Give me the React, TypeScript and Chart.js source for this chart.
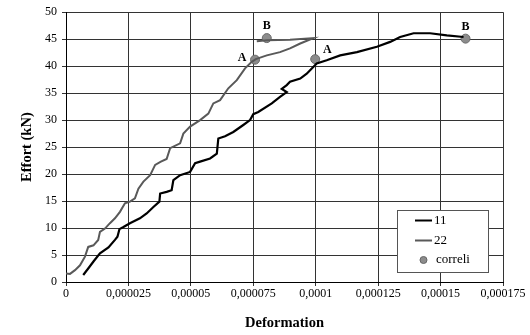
import React, { useEffect, useRef } from "react";
import { Chart, registerables } from "chart.js";

Chart.register(...registerables);

// Deformation values in units of 1e-6 (axis labels give the real values)
const def11 = [6.9, 8.9, 11, 13.6, 17, 19.6, 20.6, 21.4, 23, 25.6, 29.6, 32.3, 35, 37.4, 37.7, 40.3, 42.3, 43, 45.7, 49.7, 51.7, 53.7, 57.7, 60.4, 61, 63.7, 67, 71, 73.7, 75, 77, 82.4, 85.7, 88.4, 86.4, 88.4, 89.7, 93.8, 96.4, 100.4, 104.4, 109.8, 116.5, 124.5, 129.8, 133.8, 139.2, 145.8, 152.5, 159.2];
const effort11 = [1.3, 2.5, 3.8, 5.3, 6.4, 7.8, 8.4, 9.8, 10.2, 10.9, 11.8, 12.7, 13.9, 14.9, 16.4, 16.7, 17, 18.9, 19.8, 20.4, 22, 22.3, 22.9, 23.8, 26.6, 27.0, 27.8, 29.1, 30, 31.1, 31.5, 33.1, 34.3, 35.2, 35.8, 36.5, 37.1, 37.7, 38.6, 40.5, 41.1, 42, 42.6, 43.6, 44.5, 45.4, 46.1, 46.1, 45.7, 45.4];

const def22 = [0, 1.6, 3.6, 5.6, 7.6, 8.9, 11, 12.9, 13.6, 15.6, 17.6, 19.6, 21.6, 23.6, 25.6, 27.6, 29, 31, 33.7, 35.7, 38, 40.3, 41.7, 45.7, 47, 49.7, 53.7, 57, 59, 61.7, 65, 68.4, 71.7, 74.4, 76, 80.4, 85.7, 89.7, 93.8, 99, 89.7, 80.4, 76.4];
const effort22 = [1.6, 1.5, 2.2, 3.1, 4.7, 6.5, 6.8, 7.8, 9.3, 9.9, 10.9, 11.8, 13.0, 14.6, 14.9, 15.5, 17.3, 18.6, 19.8, 21.7, 22.3, 22.8, 24.8, 25.7, 27.5, 28.8, 30.0, 31.2, 33.1, 33.7, 35.9, 37.4, 39.6, 40.8, 41.3, 42.0, 42.6, 43.3, 44.2, 45.2, 44.9, 44.8, 44.6];

const defCorreli = [75.7, 80.4, 99.8, 160];
const effortCorreli = [41.2, 45.2, 41.3, 45.1];
const correliLabels = ["A", "B", "A", "B"];

const xTickLabels = ["0", "0,000025", "0,00005", "0,000075", "0,0001", "0,000125", "0,00015", "0,000175"];
const yTickLabels = ["0", "5", "10", "15", "20", "25", "30", "35", "40", "45", "50"];
const seriesNames = ["11", "22", "correli"];

// style: label placement relative to each point (pixels)
const labelOffsets = [[-13, -2], [0, -12], [12, -9], [0, -12]];

const SERIF = "'Liberation Serif', 'Times New Roman', serif";
const GRID = "#333333";
const C11 = "#000000";
const C22 = "#595959";
const CPT = "#8c8c8c";

const toXY = (xs: number[], ys: number[]) => xs.map((x, i) => ({ x, y: ys[i] }));

const pointLabels = {
  id: "pointLabels",
  afterDatasetsDraw(chart: any) {
    const meta = chart.getDatasetMeta(2);
    const ctx = chart.ctx;
    ctx.save();
    ctx.font = `bold 12px ${SERIF}`;
    ctx.fillStyle = "#000";
    ctx.textAlign = "center";
    ctx.textBaseline = "middle";
    meta.data.forEach((el: any, i: number) => {
      const o = labelOffsets[i];
      ctx.fillText(correliLabels[i], el.x + o[0], el.y + o[1]);
    });
    ctx.restore();
  },
};

const boxLegend = {
  id: "boxLegend",
  afterDraw(chart: any) {
    const ctx = chart.ctx;
    const a = chart.chartArea;
    const w = 91, h = 62;
    const x0 = a.right - 106, y0 = a.bottom - 72;
    ctx.save();
    ctx.fillStyle = "#fff";
    ctx.fillRect(x0, y0, w, h);
    ctx.strokeStyle = "#555";
    ctx.lineWidth = 1;
    ctx.strokeRect(x0 + 0.5, y0 + 0.5, w, h);
    ctx.font = `13px ${SERIF}`;
    ctx.textBaseline = "middle";
    ctx.textAlign = "left";
    const rows = [y0 + 10.5, y0 + 30.5, y0 + 50];
    ctx.lineWidth = 2;
    ctx.strokeStyle = C11;
    ctx.beginPath(); ctx.moveTo(x0 + 18, rows[0]); ctx.lineTo(x0 + 35, rows[0]); ctx.stroke();
    ctx.strokeStyle = C22;
    ctx.beginPath(); ctx.moveTo(x0 + 18, rows[1]); ctx.lineTo(x0 + 35, rows[1]); ctx.stroke();
    ctx.fillStyle = CPT;
    ctx.strokeStyle = "#666";
    ctx.lineWidth = 1;
    ctx.beginPath(); ctx.arc(x0 + 26.5, rows[2], 3.5, 0, Math.PI * 2); ctx.fill(); ctx.stroke();
    ctx.fillStyle = "#000";
    ctx.fillText(seriesNames[0], x0 + 37, rows[0]);
    ctx.fillText(seriesNames[1], x0 + 37, rows[1]);
    ctx.fillText(seriesNames[2], x0 + 39, rows[2]);
    ctx.restore();
  },
};

export default function App() {
  const ref = useRef<HTMLCanvasElement | null>(null);
  useEffect(() => {
    if (!ref.current) return;
    const chart = new Chart(ref.current, {
      type: "line",
      data: {
        datasets: [
          {
            label: seriesNames[0],
            data: toXY(def11, effort11),
            borderColor: C11,
            borderWidth: 2.2,
            pointRadius: 0,
            tension: 0,
            fill: false,
          },
          {
            label: seriesNames[1],
            data: toXY(def22, effort22),
            borderColor: C22,
            borderWidth: 2,
            pointRadius: 0,
            tension: 0,
            fill: false,
          },
          {
            label: seriesNames[2],
            data: toXY(defCorreli, effortCorreli),
            showLine: false,
            pointRadius: 4.5,
            pointBackgroundColor: CPT,
            pointBorderColor: "#6a6a6a",
            pointBorderWidth: 1,
            borderColor: CPT,
          },
        ],
      },
      options: {
        animation: false,
        responsive: false,
        parsing: true,
        layout: { padding: { top: 12, right: 27, left: 0, bottom: 0 } },
        plugins: {
          legend: { display: false },
          tooltip: { enabled: false },
        },
        scales: {
          x: {
            type: "linear",
            min: 0,
            max: 175,
            ticks: {
              stepSize: 25,
              color: "#000",
              font: { family: SERIF, size: 12 },
              padding: 1,
              maxRotation: 0,
              callback: (_v: any, i: number) => xTickLabels[i],
            },
            grid: { color: GRID, lineWidth: 1, tickLength: 4, drawTicks: true },
            border: { color: "#000", width: 1 },
            title: {
              display: true,
              text: "Deformation",
              color: "#000",
              font: { family: SERIF, size: 14.5, weight: "bold" },
              padding: { top: 0, bottom: 3 },
            },
            afterFit: (s: any) => { s.height = 53; },
          },
          y: {
            type: "linear",
            min: 0,
            max: 50,
            ticks: {
              stepSize: 5,
              color: "#000",
              font: { family: SERIF, size: 12 },
              padding: 5,
              callback: (_v: any, i: number) => yTickLabels[i],
            },
            grid: { color: GRID, lineWidth: 1, tickLength: 4, drawTicks: true },
            border: { color: "#000", width: 1 },
            title: {
              display: true,
              text: "Effort (kN)",
              color: "#000",
              font: { family: SERIF, size: 14.5, weight: "bold" },
              padding: { top: 19, bottom: 0 },
            },
            afterFit: (s: any) => { s.width = 66; },
          },
        },
      },
      plugins: [pointLabels, boxLegend],
    } as any);
    return () => chart.destroy();
  }, []);
  return (
    <div style={{ position: "fixed", left: 0, top: 0, width: 530, height: 335, background: "#fff" }}>
      <canvas ref={ref} width={530} height={335} style={{ width: 530, height: 335 }} />
    </div>
  );
}
